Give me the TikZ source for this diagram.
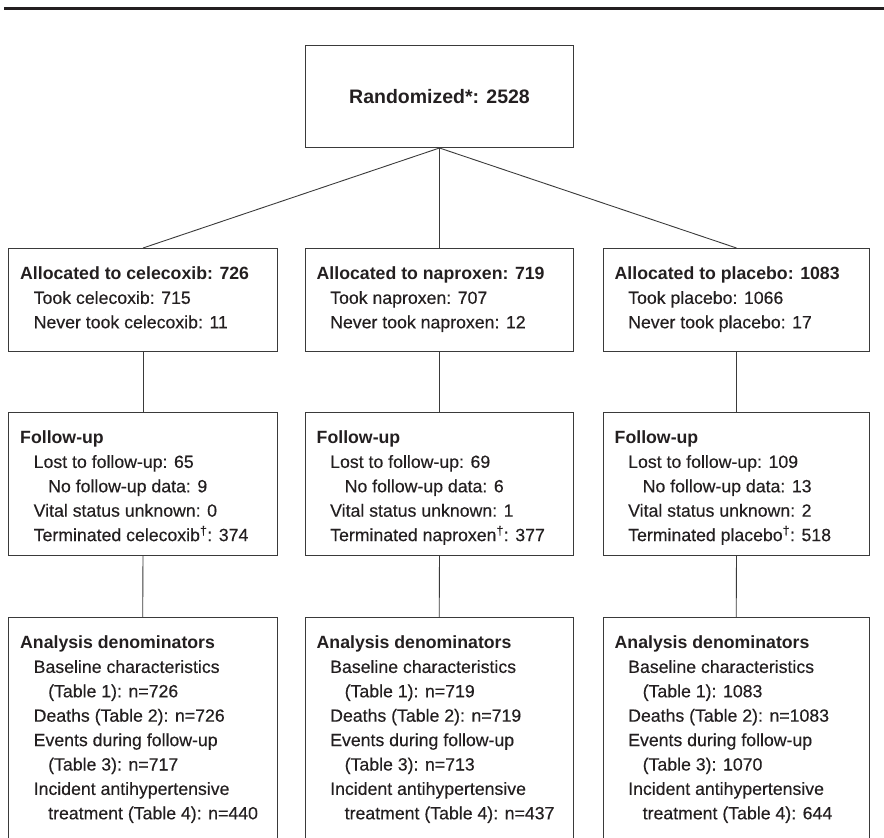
\documentclass[tikz,border=0pt]{standalone}
\usepackage{fontspec}
\setmainfont{Liberation Sans}[UprightFeatures={FakeBold=0.35}]
\definecolor{ink}{HTML}{231F20}
\definecolor{linecol}{HTML}{3A3A3A}
\newcommand{\indA}{\hspace*{13.5pt}}
\newcommand{\indB}{\hspace*{28pt}}
\newcommand{\dagsup}{\textsuperscript{\textdagger}}
\begin{document}
\begin{tikzpicture}[x=1pt,y=-1pt,
  frame/.style={draw=linecol, line width=1pt, rectangle, inner sep=0pt, anchor=north west},
  openframe/.style={rectangle, inner sep=0pt, anchor=north west},
  link/.style={draw=linecol, line width=0.9pt},
  body/.style={anchor=base west, inner sep=0pt, text=ink, font=\fontsize{17.7}{24.4}\selectfont},
  headline/.style={anchor=center, inner sep=0pt, text=ink, font=\fontsize{19.5}{24}\selectfont\bfseries}
]
\useasboundingbox (0,0) rectangle (884,838);
% top rule
\coordinate (ruleL) at (4,8.5);
\coordinate (ruleR) at (884,8.5);
\draw[ink, line width=3pt] (ruleL) -- (ruleR);

% top box
\node[frame, minimum width=268pt, minimum height=102pt] (top) at (305,45) {};
\node[headline] (toptext) at (top.center) {Randomized*: 2528};

% row 1
\node[frame, minimum width=269pt, minimum height=103pt] (L1) at (8,248) {};
\node[frame, minimum width=268pt, minimum height=103pt] (M1) at (305,248) {};
\node[frame, minimum width=266pt, minimum height=103pt] (R1) at (603,248) {};

% row 2
\node[frame, minimum width=269pt, minimum height=143pt] (L2) at (8,412) {};
\node[frame, minimum width=268pt, minimum height=143pt] (M2) at (305,412) {};
\node[frame, minimum width=266pt, minimum height=143pt] (R2) at (603,412) {};

% row 3 (open at the bottom)
\node[openframe, minimum width=269pt, minimum height=225pt] (L3) at (8,617) {};
\node[openframe, minimum width=268pt, minimum height=225pt] (M3) at (305,617) {};
\node[openframe, minimum width=266pt, minimum height=225pt] (R3) at (603,617) {};
\foreach \b in {L3,M3,R3}{
  \draw[link, line width=1pt] (\b.south west) |- (\b.north east) -- (\b.south east);
}

% connectors
\draw[link] (top.south) -- (L1.north);
\draw[link] (top.south) -- (M1.north);
\draw[link] (top.south) -- (R1.north);
\draw[link] (L1.south) -- (L2.north);
\draw[link] (M1.south) -- (M2.north);
\draw[link] (R1.south) -- (R2.north);
\draw[link] (L2.south) -- (L3.north);
\draw[link] (M2.south) -- (M3.north);
\draw[link] (R2.south) -- (R3.north);

% row 1 texts
\node[body] (L1t) at (20,279.5) {\begin{tabular}[t]{@{}l@{}}\textbf{Allocated to celecoxib: 726}\\
\indA Took celecoxib: 715\\
\indA Never took celecoxib: 11\end{tabular}};
\node[body] (M1t) at (316.5,279.5) {\begin{tabular}[t]{@{}l@{}}\textbf{Allocated to naproxen: 719}\\
\indA Took naproxen: 707\\
\indA Never took naproxen: 12\end{tabular}};
\node[body] (R1t) at (614.5,279.5) {\begin{tabular}[t]{@{}l@{}}\textbf{Allocated to placebo: 1083}\\
\indA Took placebo: 1066\\
\indA Never took placebo: 17\end{tabular}};

% row 2 texts
\node[body] (L2t) at (20,443.5) {\begin{tabular}[t]{@{}l@{}}\textbf{Follow-up}\\
\indA Lost to follow-up: 65\\
\indB No follow-up data: 9\\
\indA Vital status unknown: 0\\
\indA Terminated celecoxib\dagsup: 374\end{tabular}};
\node[body] (M2t) at (316.5,443.5) {\begin{tabular}[t]{@{}l@{}}\textbf{Follow-up}\\
\indA Lost to follow-up: 69\\
\indB No follow-up data: 6\\
\indA Vital status unknown: 1\\
\indA Terminated naproxen\dagsup: 377\end{tabular}};
\node[body] (R2t) at (614.5,443.5) {\begin{tabular}[t]{@{}l@{}}\textbf{Follow-up}\\
\indA Lost to follow-up: 109\\
\indB No follow-up data: 13\\
\indA Vital status unknown: 2\\
\indA Terminated placebo\dagsup: 518\end{tabular}};

% row 3 texts
\node[body] (L3t) at (20,648.5) {\begin{tabular}[t]{@{}l@{}}\textbf{Analysis denominators}\\
\indA Baseline characteristics\\
\indB (Table 1): n=726\\
\indA Deaths (Table 2): n=726\\
\indA Events during follow-up\\
\indB (Table 3): n=717\\
\indA Incident antihypertensive\\
\indB treatment (Table 4): n=440\end{tabular}};
\node[body] (M3t) at (316.5,648.5) {\begin{tabular}[t]{@{}l@{}}\textbf{Analysis denominators}\\
\indA Baseline characteristics\\
\indB (Table 1): n=719\\
\indA Deaths (Table 2): n=719\\
\indA Events during follow-up\\
\indB (Table 3): n=713\\
\indA Incident antihypertensive\\
\indB treatment (Table 4): n=437\end{tabular}};
\node[body] (R3t) at (614.5,648.5) {\begin{tabular}[t]{@{}l@{}}\textbf{Analysis denominators}\\
\indA Baseline characteristics\\
\indB (Table 1): 1083\\
\indA Deaths (Table 2): n=1083\\
\indA Events during follow-up\\
\indB (Table 3): 1070\\
\indA Incident antihypertensive\\
\indB treatment (Table 4): 644\end{tabular}};
\end{tikzpicture}
\end{document}
